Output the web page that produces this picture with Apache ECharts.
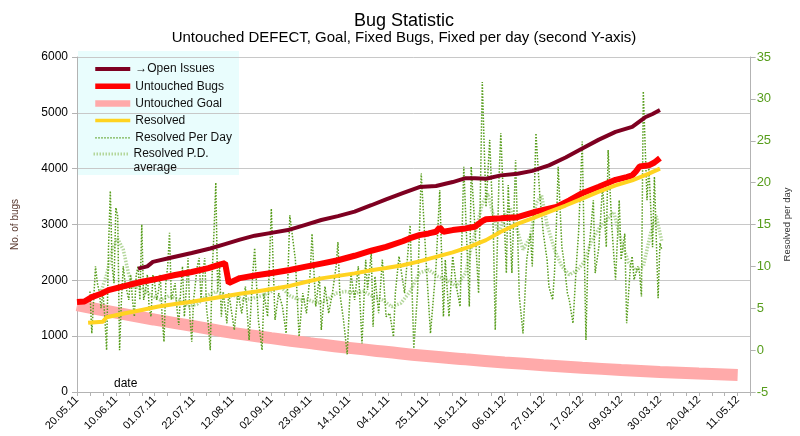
<!DOCTYPE html>
<html><head><meta charset="utf-8">
<script src="https://cdn.jsdelivr.net/npm/echarts@6/dist/echarts.min.js"></script>
<style>html,body{margin:0;padding:0;background:#fff}#c{width:800px;height:436px}</style>
</head><body><div id="c"></div>
<script>
// x values are days since 20.05.11
const dateLabels = ['20.05.11','10.06.11','01.07.11','22.07.11','12.08.11','02.09.11','23.09.11','14.10.11','04.11.11','25.11.11','16.12.11','06.01.12','27.01.12','17.02.12','09.03.12','30.03.12','20.04.12','11.05.12'];
const seriesNames = ['→Open Issues','Untouched Bugs','Untouched Goal','Resolved','Resolved Per Day','Resolved P.D. average'];

const openIssues = [[33,2210],[38,2250],[41,2330],[50,2400],[62,2490],[72,2570],[80,2650],[88,2730],[96,2800],[105,2850],[114,2900],[123,2990],[132,3080],[141,3150],[150,3230],[159,3345],[167,3450],[176,3560],[185,3670],[194,3690],[203,3760],[210,3830],[215,3830],[221,3820],[229,3880],[238,3910],[246,3960],[255,4060],[264,4200],[273,4360],[282,4520],[291,4660],[300,4750],[307,4920],[311,4980],[315,5050]];

const untouchedBugs = [[0,1610],[4,1620],[8,1700],[13,1760],[17,1825],[26,1900],[35,1975],[44,2030],[53,2095],[62,2150],[71,2220],[77,2280],[80,2310],[81,2330],[82,1950],[88,2040],[97,2090],[106,2135],[115,2185],[123,2240],[132,2300],[141,2360],[150,2440],[159,2530],[167,2600],[176,2700],[180,2755],[185,2810],[190,2840],[194,2870],[196,2950],[198,2870],[203,2900],[210,2930],[215,2960],[219,3060],[221,3094],[229,3110],[238,3130],[248,3230],[259,3315],[266,3430],[273,3560],[282,3675],[291,3800],[297,3850],[300,3880],[302,3950],[304,4040],[309,4060],[312,4110],[315,4190]];

const untouchedGoal = [[0,1556],[21,1420],[42,1295],[63,1180],[84,1060],[105,965],[126,875],[147,790],[168,715],[189,645],[210,585],[231,530],[252,480],[273,435],[294,395],[315,360],[336,330],[357,305]];

const resolved = [[6,1240],[14,1260],[16,1340],[26,1410],[35,1470],[44,1530],[53,1575],[62,1615],[71,1665],[80,1715],[88,1760],[97,1800],[106,1850],[115,1900],[123,1965],[132,2035],[141,2080],[150,2125],[159,2180],[167,2220],[176,2270],[185,2340],[194,2420],[203,2500],[212,2600],[221,2720],[229,2870],[238,3010],[246,3110],[255,3225],[264,3340],[273,3465],[282,3590],[291,3700],[300,3790],[309,3910],[315,4000]];

const resolvedPerDay = [[7,7],[8,2],[9,6],[10,10],[11,8],[12,7],[13,5],[14,7],[15,4],[16,0],[17,12],[18,19],[19,10],[20,8],[21,17],[22,16],[23,0],[24,6],[25,10],[26,8],[27,7],[28,6],[29,9],[30,6],[31,4],[32,9],[33,10],[34,6],[35,15],[36,6],[37,7],[38,9],[39,5],[40,4],[41,9],[42,8],[43,6],[44,7],[45,9],[46,4],[47,1],[48,8],[49,10],[50,14],[51,6],[52,6],[53,8],[54,5],[55,3],[56,7],[57,10],[58,4],[59,7],[60,11],[61,4],[62,1],[63,6],[64,8],[65,10],[66,11],[67,6],[68,9],[69,11],[70,5],[71,3],[72,0],[73,9],[74,14],[75,20],[76,7],[77,10],[78,4],[79,7],
[81,3.2],[82,6.8],[85,2.4],[87,6.8],[89,4.4],[91,7.6],[93,1.2],[95,9.2],[96,12.2],[98,3.6],[100,0],[101,6.8],[103,4],[105,16.9],[107,3.6],[109,6.8],[111,5.2],[113,2],[115,16.1],[116,16],[118,10.8],[120,1.6],[122,6.8],[124,4.4],[126,9.2],[127,13.9],[129,5.2],[131,8.8],[132,2.4],[134,7.6],[136,4.4],[138,6.8],[140,10],[141,12.9],[142,6.8],[144,3.6],[146,-0.5],[148,9.2],[150,6],[152,10],[154,0.8],[156,10.8],[157,7.2],[159,11.6],
[160,2.8],[161,8.8],[163,4.4],[165,10.8],[167,4],[169,4.4],[171,1.6],[172,6.8],[174,11.2],[177,6.8],[180,14.9],[182,0.2],[184,6.8],[186,21.1],[189,9.2],[191,2],[194,10],[196,19.1],[198,4],[199,10.8],[201,4],[203,11.2],[205,7.6],[207,5.2],[209,21.9],[212,5.2],[213,21.9],[215,14.7],[217,6.8],[219,32],[221,17.1],[223,25.1],[225,13.9],[226,2.4],[228,20.3],[229,25.9],[232,9.2],[233,19.7],[235,9.2],[237,22.7],
[239,6.4],[241,2],[243,10.8],[245,13.9],[246,10],[248,25.9],[250,18.7],[252,13.9],[254,10.8],[255,7.6],[257,6],[258,9.2],[259,14.7],[260,21.9],[262,12.3],[263,10.8],[265,6.8],[266,6],[268,3.2],[270,10.8],[271,13.9],[273,24.9],[275,1.2],[276,10.8],[277,12.8],[279,17.9],[280,9.2],[282,12.3],[284,19.7],[286,12.3],[287,23.9],[289,14.7],[291,8.4],[293,17.9],[294,10.8],[296,13.9],[297,3.2],[299,10],[300,11.2],[301,8.4],[303,10],[304,9.2],[305,6.4],[306,30.9],[308,17.9],[309,21.9],[311,12.3],[312,20.7],[314,6.2],[315,12.8],[316,12]];

const resolvedAvg = [[7,6],[10,6.5],[13,7],[16,9],[19,12],[22,13.3],[25,12],[28,9],[31,7.5],[35,7.5],[40,6.5],[45,6],[50,6.5],[55,6],[60,5.2],[65,5.5],[70,6.5],[75,7],[80,6.5],[85,6.5],[90,6],[95,6.2],[100,6.5],[105,7],[110,7.6],[115,6.5],[120,6],[125,6],[130,5.6],[135,6],[140,6.8],[145,7],[150,6.8],[155,7],[160,6.4],[165,6],[170,5.2],[175,5.6],[180,7],[185,9.2],[190,9.6],[195,8.8],[200,8.4],[205,7.6],[210,9.2],[213,12.3],[216,14.7],[219,17.5],[222,18.7],[225,16],[228,13.9],[231,16],[234,17],[237,15],[241,12],[245,13.5],[248,17.5],[251,18.5],[254,15],[258,12],[262,10],[266,9],[270,9.5],[274,10.5],[278,13],[282,14.5],[286,15.5],[290,16.5],[294,13],[298,10.5],[302,9.5],[306,10],[310,14],[313,16],[316,13]];

const FONT = '"Liberation Sans", Arial, sans-serif';
const chart = echarts.init(document.getElementById('c'), null, {renderer: 'canvas'});
const noSym = {color: 'rgba(0,0,0,0)', borderWidth: 0, opacity: 0};
const legendBase = {
  orient: 'vertical', left: 92, padding: 0,
  itemWidth: 35, itemHeight: 12, itemGap: 3.2,
  selectedMode: false
};
const option = {
  animation: false,
  textStyle: {fontFamily: FONT},
  grid: {left: 77, right: 43, top: 57, bottom: 44, containLabel: false},
  graphic: [
    {type: 'rect', z: -100, shape: {x: 78, y: 51, width: 161, height: 124}, style: {fill: '#e9fdfd'}},
    {type: 'text', x: 404, y: 21, style: {text: 'Bug Statistic', fontSize: 18, fontFamily: FONT, fill: '#000', align: 'center', verticalAlign: 'middle', textAlign: 'center', textVerticalAlign: 'middle'}},
    {type: 'text', x: 404, y: 38, style: {text: 'Untouched DEFECT, Goal, Fixed Bugs, Fixed per day (second Y-axis)', fontSize: 15, fontFamily: FONT, fill: '#000', align: 'center', verticalAlign: 'middle', textAlign: 'center', textVerticalAlign: 'middle'}},
    {type: 'text', x: 114, y: 384, style: {text: 'date', fontSize: 12, fontFamily: FONT, fill: '#000', align: 'left', verticalAlign: 'middle', textAlign: 'left', textVerticalAlign: 'middle'}}
  ],
  legend: [
    Object.assign({}, legendBase, {
      top: 62,
      textStyle: {fontSize: 12, color: '#111', fontFamily: FONT, lineHeight: 14},
      data: [
        {name: seriesNames[0], lineStyle: {width: 4}, itemStyle: noSym},
        {name: seriesNames[1], lineStyle: {width: 5.5}, itemStyle: noSym},
        {name: seriesNames[2], lineStyle: {width: 6.5}, itemStyle: noSym},
        {name: seriesNames[3], lineStyle: {width: 3.5}, itemStyle: noSym},
        {name: seriesNames[4], lineStyle: {width: 1.2}, itemStyle: noSym}
      ]
    }),
    Object.assign({}, legendBase, {
      top: 133,
      textStyle: {fontSize: 12, color: '#111', fontFamily: FONT, lineHeight: 14},
      formatter: n => n === 'Resolved P.D. average' ? '\nResolved P.D.\naverage' : n,
      data: [
        {name: seriesNames[5], lineStyle: {width: 3}, itemStyle: noSym}
      ]
    })
  ],
  xAxis: {
    type: 'value', min: 0, max: 364, interval: 7,
    axisLine: {show: true, onZero: false, lineStyle: {color: '#b3b3b3'}},
    axisTick: {show: true, length: 4, lineStyle: {color: '#b3b3b3'}},
    splitLine: {show: false},
    axisLabel: {
      rotate: 45, margin: 6, fontSize: 11, color: '#000', fontFamily: FONT,
      formatter: v => (Math.round(v) % 21 === 0 && dateLabels[Math.round(v) / 21]) ? dateLabels[Math.round(v) / 21] : ''
    }
  },
  yAxis: [
    {
      type: 'value', min: 0, max: 6000, interval: 1000, position: 'left',
      name: 'No. of bugs', nameLocation: 'middle', nameGap: 57,
      nameTextStyle: {fontSize: 10, color: '#5a3a30', fontFamily: FONT},
      axisLine: {show: true, lineStyle: {color: '#b3b3b3'}},
      axisTick: {show: true, length: 5, lineStyle: {color: '#b3b3b3'}},
      axisLabel: {fontSize: 12, color: '#000', margin: 9, fontFamily: FONT, formatter: v => String(v)},
      splitLine: {show: true, lineStyle: {color: '#c8c8c8', width: 1}}
    },
    {
      type: 'value', min: -5, max: 35, interval: 5, position: 'right',
      name: 'Resolved per day', nameLocation: 'middle', nameGap: 30, nameRotate: 90,
      nameTextStyle: {fontSize: 9.5, color: '#333', fontFamily: FONT},
      axisLine: {show: true, lineStyle: {color: '#b3b3b3'}},
      axisTick: {show: true, length: 5, lineStyle: {color: '#b3b3b3'}},
      axisLabel: {fontSize: 13, color: '#579d1c', margin: 6, fontFamily: FONT, formatter: v => String(v)},
      splitLine: {show: false}
    }
  ],
  series: [
    {name: seriesNames[0], type: 'line', yAxisIndex: 0, data: openIssues, showSymbol: false, symbol: 'none', z: 4,
     itemStyle: {color: '#7e0021'}, lineStyle: {color: '#7e0021', width: 4}},
    {name: seriesNames[1], type: 'line', yAxisIndex: 0, data: untouchedBugs, showSymbol: false, symbol: 'none', z: 4,
     itemStyle: {color: '#ff0000'}, lineStyle: {color: '#ff0000', width: 6}},
    {name: seriesNames[2], type: 'line', yAxisIndex: 0, data: untouchedGoal, showSymbol: false, symbol: 'none', z: 1, smooth: true,
     itemStyle: {color: '#ffaaaa'}, lineStyle: {color: '#ffaaaa', width: 12, cap: 'butt'}},
    {name: seriesNames[3], type: 'line', yAxisIndex: 0, data: resolved, showSymbol: false, symbol: 'none', z: 4,
     itemStyle: {color: '#ffd320'}, lineStyle: {color: '#ffd320', width: 4}},
    {name: seriesNames[4], type: 'line', yAxisIndex: 1, data: resolvedPerDay, showSymbol: false, symbol: 'none', z: 3,
     itemStyle: {color: '#579d1c'}, lineStyle: {color: '#579d1c', width: 1.5, type: [1.5, 1.5]}},
    {name: seriesNames[5], type: 'line', yAxisIndex: 1, data: resolvedAvg, showSymbol: false, symbol: 'none', z: 2,
     itemStyle: {color: '#b3d69a'}, lineStyle: {color: '#b3d69a', width: 3.5, type: [1.5, 1.5]}}
  ]
};
chart.setOption(option);
</script>
</body></html>
